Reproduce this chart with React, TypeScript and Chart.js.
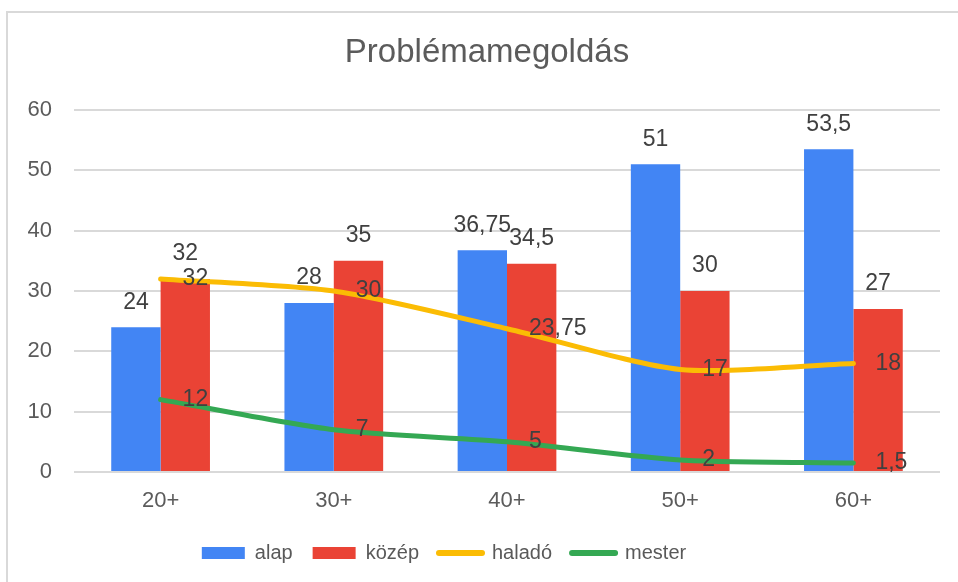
import React, { useEffect, useRef } from 'react';
import { Chart, registerables } from 'chart.js';

Chart.register(...registerables);

const chartTitle = 'Problémamegoldás';
const categories = ['20+', '30+', '40+', '50+', '60+'];
const seriesNames = ['alap', 'közép', 'haladó', 'mester'];
const alap = [24, 28, 36.75, 51, 53.5];
const kozep = [32, 35, 34.5, 30, 27];
const halado = [32, 30, 23.75, 17, 18];
const mester = [12, 7, 5, 2, 1.5];
const yTicks = [0, 10, 20, 30, 40, 50, 60];

const COLORS = ['#4285F4', '#EA4335', '#FBBC04', '#34A853'];
const FONT = '"Liberation Sans", Arial, sans-serif';

const fmt = (v: number) => String(v).replace('.', ',');

const dataLabels = {
  id: 'dataLabels',
  afterDatasetsDraw(chart: any) {
    const ctx = chart.ctx;
    ctx.save();
    ctx.font = `23px ${FONT}`;
    ctx.fillStyle = '#404040';
    ctx.textBaseline = 'middle';
    chart.data.datasets.forEach((ds: any, i: number) => {
      const meta = chart.getDatasetMeta(i);
      if (!chart.isDatasetVisible(i)) return;
      meta.data.forEach((el: any, j: number) => {
        const txt = fmt(ds.data[j]);
        if (ds.type === 'bar') {
          ctx.textAlign = 'center';
          ctx.fillText(txt, el.x, el.y - 25);
        } else {
          ctx.textAlign = 'left';
          ctx.fillText(txt, el.x + 22, el.y);
        }
      });
    });
    ctx.restore();
  },
};

const shiftBoxes = {
  id: 'shiftBoxes',
  afterLayout(chart: any) {
    const t = chart.titleBlock;
    if (t) {
      t.left += 17;
      t.right += 17;
    }
    const l = chart.legend;
    if (l) {
      l.left -= 26;
      l.right -= 26;
    }
  },
};

export default function App() {
  const ref = useRef<HTMLCanvasElement | null>(null);

  useEffect(() => {
    if (!ref.current) return;
    const chart = new Chart(ref.current, {
      data: {
        labels: categories,
        datasets: [
          {
            type: 'bar',
            label: seriesNames[0],
            data: alap,
            backgroundColor: COLORS[0],
            borderWidth: 0,
            order: 2,
            categoryPercentage: 0.57,
            barPercentage: 1,
          },
          {
            type: 'bar',
            label: seriesNames[1],
            data: kozep,
            backgroundColor: COLORS[1],
            borderWidth: 0,
            order: 2,
            categoryPercentage: 0.57,
            barPercentage: 1,
          },
          {
            type: 'line',
            label: seriesNames[2],
            data: halado,
            borderColor: COLORS[2],
            backgroundColor: COLORS[2],
            borderWidth: 5,
            tension: 0.25,
            pointRadius: 0,
            pointHoverRadius: 0,
            borderCapStyle: 'round',
            order: 1,
          },
          {
            type: 'line',
            label: seriesNames[3],
            data: mester,
            borderColor: COLORS[3],
            backgroundColor: COLORS[3],
            borderWidth: 5,
            tension: 0.25,
            pointRadius: 0,
            pointHoverRadius: 0,
            borderCapStyle: 'round',
            order: 0,
          },
        ] as any,
      },
      options: {
        responsive: false,
        animation: false,
        events: [],
        layout: { padding: { left: 0, right: 18, top: 0, bottom: 9 } },
        scales: {
          x: {
            grid: { display: false, drawTicks: false },
            border: { display: false },
            ticks: { font: { family: FONT, size: 22 }, color: '#5b5b5b', padding: 16 },
            afterFit: (s: any) => {
              s.height = 51;
            },
          },
          y: {
            min: 0,
            max: 60,
            grid: { color: '#d9d9d9', lineWidth: 2, drawTicks: false },
            border: { display: false },
            ticks: { font: { family: FONT, size: 22 }, color: '#5b5b5b', padding: 22 },
            afterBuildTicks: (s: any) => {
              s.ticks = yTicks.map((v) => ({ value: v }));
            },
            afterFit: (s: any) => {
              s.width = 74;
            },
          },
        },
        plugins: {
          title: {
            display: true,
            text: chartTitle,
            color: '#5b5b5b',
            font: { family: FONT, size: 33, weight: 'normal' },
            padding: { top: 33, bottom: 37.4 },
          },
          legend: {
            display: true,
            position: 'bottom',
            labels: {
              usePointStyle: true,
              pointStyleWidth: 43,
              boxHeight: 12,
              padding: 20,
              color: '#595959',
              font: { family: FONT, size: 20 },
              generateLabels: (c: any) =>
                c.data.datasets.map((ds: any, i: number) => ({
                  text: ds.label,
                  fillStyle: COLORS[i],
                  strokeStyle: COLORS[i],
                  lineWidth: ds.type === 'bar' ? 0 : 6,
                  lineCap: 'round',
                  pointStyle: ds.type === 'bar' ? 'rect' : 'line',
                  hidden: !c.isDatasetVisible(i),
                  datasetIndex: i,
                  fontColor: '#595959',
                })),
            },
          },
          tooltip: { enabled: false },
        },
      } as any,
      plugins: [dataLabels, shiftBoxes],
    });
    return () => chart.destroy();
  }, []);

  return (
    <div
      style={{
        position: 'fixed',
        left: 0,
        top: 0,
        width: 958,
        height: 582,
        overflow: 'hidden',
        background: '#ffffff',
      }}
    >
      <div
        style={{
          position: 'absolute',
          left: 6,
          top: 11,
          width: 1000,
          height: 1000,
          borderLeft: '2px solid #d9d9d9',
          borderTop: '2px solid #d9d9d9',
        }}
      />
      <canvas
        ref={ref}
        width={958}
        height={582}
        style={{ position: 'absolute', left: 0, top: 0 }}
      />
    </div>
  );
}
